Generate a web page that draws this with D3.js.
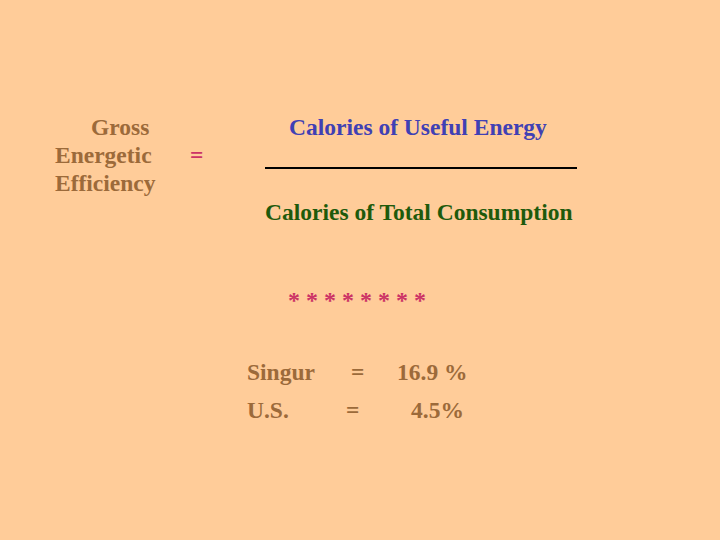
<html>
<script src="https://d3js.org/d3.v7.min.js"></script>
<body style="margin:0">
<div id="chart"></div>
<script>
var leftLines = ["Gross", "Energetic", "Efficiency"];
var numerator = "Calories of Useful Energy";
var denominator = "Calories of Total Consumption";
var stars = "* * * * * * * *";
var places = ["Singur", "U.S."];
var values = ["16.9 %", "4.5%"];

var brown = "#9c6a3a", blue = "#4040b4", green = "#1e5a0c", pink = "#cc3366";

var svg = d3.select("#chart").append("svg")
  .attr("width", 720).attr("height", 540)
  .style("font-family", "'Liberation Serif', 'Times New Roman', serif")
  .style("font-weight", "bold")
  .style("font-size", "23.5px");

svg.append("rect").attr("width", 720).attr("height", 540).attr("fill", "#ffcc99");

var leftX = [91, 55, 55];
svg.selectAll(".left").data(leftLines).enter().append("text")
  .attr("x", (d, i) => leftX[i]).attr("y", (d, i) => 135 + i * 28)
  .attr("fill", brown).text(d => d);

svg.append("text").attr("x", 190).attr("y", 163).attr("fill", pink).text("=");

svg.append("text").attr("x", 289).attr("y", 135).attr("fill", blue).text(numerator);
svg.append("line").attr("x1", 265).attr("x2", 577).attr("y1", 168).attr("y2", 168)
  .attr("stroke", "#000").attr("stroke-width", 2);
svg.append("text").attr("x", 265).attr("y", 220).attr("fill", green).text(denominator);

svg.append("text").attr("x", 288).attr("y", 308).attr("fill", pink)
  .style("font-size", "24px").attr("textLength", 138).text(stars);

var rows = svg.selectAll(".row").data(places).enter().append("g");
rows.append("text").attr("x", 247).attr("y", (d, i) => 380 + i * 38)
  .attr("fill", brown).text(d => d);
rows.append("text").attr("x", (d, i) => i ? 346 : 351).attr("y", (d, i) => 380 + i * 38)
  .attr("fill", brown).text("=");
rows.append("text").attr("x", (d, i) => i ? 411 : 397).attr("y", (d, i) => 380 + i * 38)
  .attr("fill", brown).text((d, i) => values[i]);
</script>
</body>
</html>
